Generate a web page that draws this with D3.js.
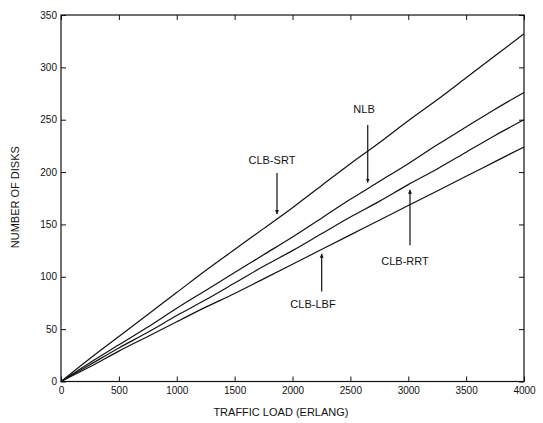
<!DOCTYPE html>
<html>
<head>
<meta charset="utf-8">
<script src="https://cdn.jsdelivr.net/npm/d3@7"></script>
<style>
  body { margin: 0; background: #fff; }
  text { font-family: "Liberation Sans", Arial, sans-serif; fill: #111; }
</style>
</head>
<body>
<div class="chart"></div>
<script>
// DATA
// ----------------------------
const load = [0, 250, 500, 750, 1000, 1250, 1500, 1750, 2000, 2250, 2500, 2750, 3000, 3250, 3500, 3750, 4000]
const clbSrt = [0, 22, 43, 64, 85, 106, 126, 146, 166, 187, 208, 228, 249, 269, 290, 311, 332]
const nlb = [0, 18, 35, 52, 70, 87, 104, 121, 138, 156, 174, 191, 208, 226, 243, 260, 276]
const clbRrt = [0, 16, 32, 47, 63, 78, 94, 110, 125, 141, 157, 172, 188, 203, 219, 235, 250]
const clbLbf = [0, 14, 29, 43, 57, 71, 84, 98, 112, 126, 140, 154, 168, 182, 196, 210, 224]
const xTicks = [0, 500, 1000, 1500, 2000, 2500, 3000, 3500, 4000]
const yTicks = [0, 50, 100, 150, 200, 250, 300, 350]

// label text, label position, arrow start -> arrow tip (data units)
const notes = [
  { text: 'CLB-SRT', lx: 1823, ly: 212, ax: 1866, from: 199, to: 160 },
  { text: 'NLB', lx: 2618, ly: 260, ax: 2650, from: 245, to: 190 },
  { text: 'CLB-RRT', lx: 2972, ly: 115, ax: 3015, from: 130, to: 183 },
  { text: 'CLB-LBF', lx: 2177, ly: 74, ax: 2252, from: 86, to: 122 },
]

// SETUP
// ----------------------------
const margin = { top: 15, bottom: 41.5, left: 61, right: 19 }
const fullWidth = 543
const fullHeight = 423
const width = fullWidth - margin.left - margin.right
const height = fullHeight - margin.top - margin.bottom

const svg = d3.select('.chart')
  .append('svg')
    .attr('width', fullWidth)
    .attr('height', fullHeight)
  .append('g')
    .attr('transform', `translate(${margin.left}, ${margin.top})`)

const xScale = d3.scaleLinear().domain([0, 4000]).range([0, width])
const yScale = d3.scaleLinear().domain([0, 350]).range([height, 0])

// AXES (inward ticks on all four sides)
// ----------------------------
const xAxis = d3.axisBottom(xScale).tickValues(xTicks).tickFormat(d3.format('d'))
  .tickSizeInner(-5).tickSizeOuter(0).tickPadding(5)
const yAxis = d3.axisLeft(yScale).tickValues(yTicks).tickFormat(d3.format('d'))
  .tickSizeInner(-5).tickSizeOuter(0).tickPadding(4)

const gx = svg.append('g').attr('transform', `translate(0, ${height})`).call(xAxis)
const gy = svg.append('g').call(yAxis)
svg.append('g').call(d3.axisTop(xScale).tickValues(xTicks).tickSize(-5).tickFormat(''))
  .select('.domain').remove()
svg.append('g').attr('transform', `translate(${width}, 0)`)
  .call(d3.axisRight(yScale).tickValues(yTicks).tickSize(-5).tickFormat(''))
  .select('.domain').remove()

gx.select('.domain').remove()
gy.select('.domain').remove()
svg.selectAll('.tick line').attr('stroke', '#111')
svg.selectAll('.tick text').style('font-size', '10px').attr('fill', '#111')

svg.append('rect')
  .attr('width', width)
  .attr('height', height)
  .attr('fill', 'none')
  .attr('stroke', '#111')
  .attr('stroke-width', 1.2)

// axis titles
svg.append('text')
  .attr('x', xScale(1900))
  .attr('y', height + 34)
  .attr('text-anchor', 'middle')
  .style('font-size', '11px')
  .text('TRAFFIC LOAD (ERLANG)')

svg.append('text')
  .attr('transform', `translate(${-42}, ${yScale(176)}) rotate(-90)`)
  .attr('text-anchor', 'middle')
  .style('font-size', '11px')
  .text('NUMBER OF DISKS')

// LINES
// ----------------------------
const line = d3.line()
  .x((d, i) => xScale(load[i]))
  .y(d => yScale(d))
  .curve(d3.curveMonotoneX)

svg.selectAll('.series')
  .data([clbSrt, nlb, clbRrt, clbLbf])
  .enter()
  .append('path')
  .attr('class', 'series')
  .attr('d', line)
  .attr('fill', 'none')
  .attr('stroke', '#111')
  .attr('stroke-width', 1.2)

// ANNOTATIONS
// ----------------------------
svg.append('defs').append('marker')
  .attr('id', 'head')
  .attr('viewBox', '0 0 10 10')
  .attr('refX', 10)
  .attr('refY', 5)
  .attr('markerWidth', 4)
  .attr('markerHeight', 7)
  .attr('markerUnits', 'userSpaceOnUse')
  .attr('orient', 'auto')
  .append('path')
  .attr('d', 'M0,0 L10,5 L0,10 Z')
  .attr('fill', '#111')

const note = svg.selectAll('.note').data(notes).enter().append('g').attr('class', 'note')
note.append('text')
  .attr('x', d => xScale(d.lx))
  .attr('y', d => yScale(d.ly) + 4)
  .attr('text-anchor', 'middle')
  .style('font-size', '11px')
  .text(d => d.text)
note.append('line')
  .attr('x1', d => xScale(d.ax))
  .attr('x2', d => xScale(d.ax))
  .attr('y1', d => yScale(d.from))
  .attr('y2', d => yScale(d.to))
  .attr('stroke', '#111')
  .attr('stroke-width', 1.2)
  .attr('marker-end', 'url(#head)')
</script>
</body>
</html>
